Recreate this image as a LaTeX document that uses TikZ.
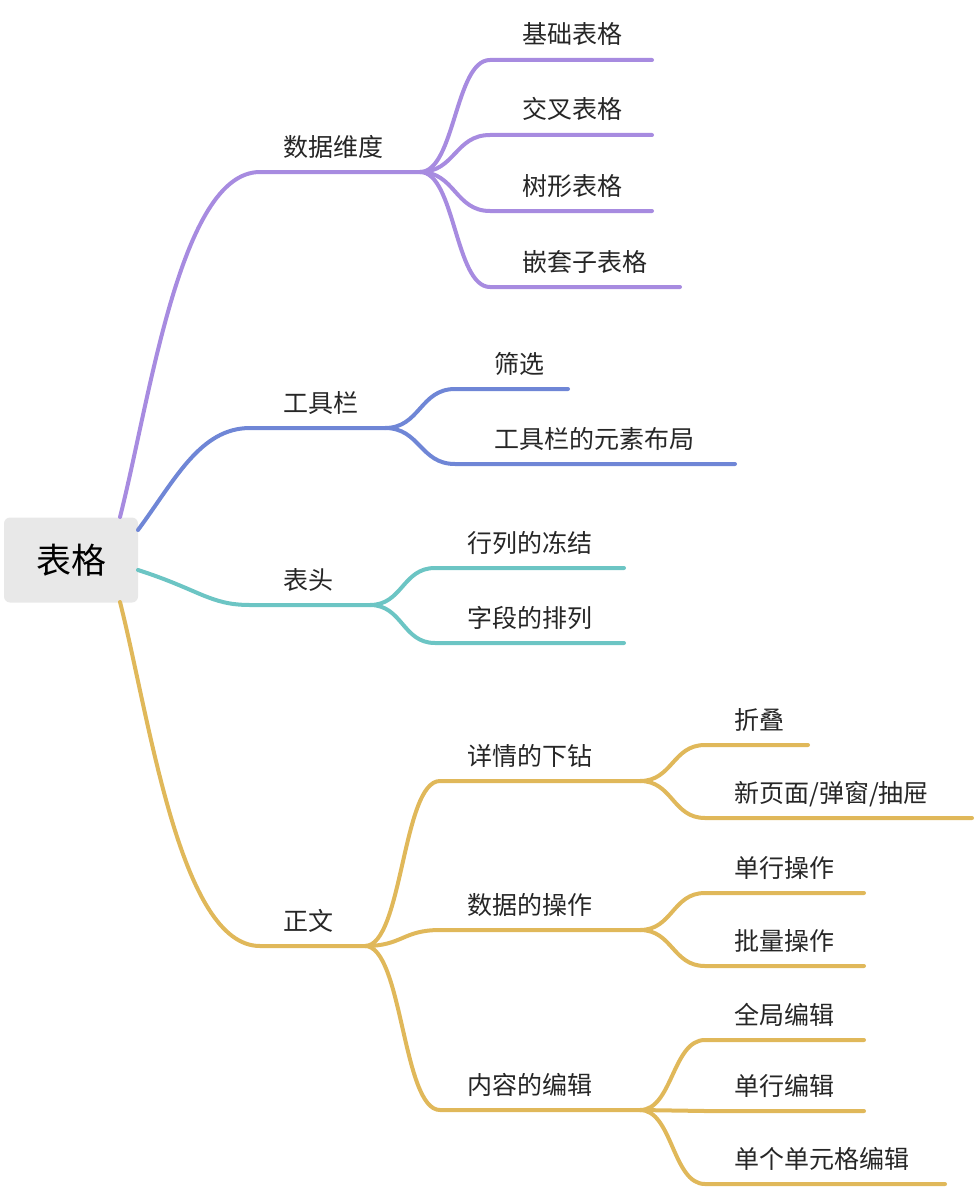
\documentclass[tikz,border=0pt]{standalone}
\usepackage{fontspec}
\setmainfont{Noto Sans CJK SC}
\usetikzlibrary{positioning,calc}
\definecolor{cpurple}{HTML}{A78BE0}
\definecolor{cblue}{HTML}{6F86D6}
\definecolor{cteal}{HTML}{6CC5C4}
\definecolor{cyellow}{HTML}{E0B85A}

\begin{document}
\begin{tikzpicture}[
    x = 1pt, y = -1pt, % pixel grid
    branch/.style = {line width = 4pt, line cap = round},
    lbl/.style = {anchor = base west, inner sep = 0pt, font = \fontsize{25}{30}\selectfont, text = black!85},
    link/.style = {to path = {let \p1 = (\tikztostart), \p2 = (\tikztotarget) in
      .. controls ({0.5*\x1+0.5*\x2},\y1) and ({0.5*\x1+0.5*\x2},\y2) .. (\tikztotarget)}}
    ]
    \useasboundingbox (0,0) rectangle (974,1188);

    % root
    \node[fill = black!9, rounded corners = 6pt, minimum width = 134pt, minimum height = 85pt,
          font = \fontsize{35}{40}\selectfont] (root) at (71,560) {表格};
    \coordinate (rtop) at (120,517);
    \coordinate (rbot) at (120,602);
    \coordinate (rr1) at (138,530);
    \coordinate (rr2) at (138,570);

    % level 1 underlines
    \coordinate (d0) at (260,172); \coordinate (d1) at (420,172);
    \coordinate (t0) at (250,428); \coordinate (t1) at (385,428);
    \coordinate (h0) at (250,605); \coordinate (h1) at (370,605);
    \coordinate (z0) at (260,946); \coordinate (z1) at (365,946);
    \node[lbl] (dl) at (283,156) {数据维度};
    \node[lbl] (tl) at (283,412) {工具栏};
    \node[lbl] (hl) at (283,589) {表头};
    \node[lbl] (zl) at (283,930) {正文};

    \draw[branch, cpurple] (rtop) .. controls (150,400) and (180,172) .. (d0) -- (d1);
    \draw[branch, cblue] (rr1) .. controls (175,480) and (200,428) .. (t0) -- (t1);
    \draw[branch, cteal] (rr2) .. controls (200,590) and (210,605) .. (h0) -- (h1);
    \draw[branch, cyellow] (rbot) .. controls (150,720) and (180,946) .. (z0) -- (z1);

    % data dimension
    \foreach \yy/\ee/\txt/\nm in {60/652/基础表格/d1a, 135/652/交叉表格/d1b, 211/652/树形表格/d1c, 287/680/嵌套子表格/d1d} {
      \coordinate (\nm) at (490,\yy);
      \coordinate (\nm e) at (\ee,\yy);
      \draw[branch, cpurple] (d1) to[link] (\nm) -- (\nm e);
      \node[lbl] at (522,{\yy-16}) {\txt};
    }
    % toolbar
    \foreach \yy/\ee/\txt/\nm in {389/568/筛选/t1a, 464/735/工具栏的元素布局/t1b} {
      \coordinate (\nm) at (455,\yy);
      \coordinate (\nm e) at (\ee,\yy);
      \draw[branch, cblue] (t1) to[link] (\nm) -- (\nm e);
      \node[lbl] at (494,{\yy-16}) {\txt};
    }
    % header
    \foreach \yy/\txt/\nm in {568/行列的冻结/h1a, 643/字段的排列/h1b} {
      \coordinate (\nm) at (435,\yy);
      \coordinate (\nm e) at (624,\yy);
      \draw[branch, cteal] (h1) to[link] (\nm) -- (\nm e);
      \node[lbl] at (467,{\yy-16}) {\txt};
    }
    % body
    \coordinate (za) at (440,781); \coordinate (za1) at (640,781);
    \coordinate (zb) at (440,930); \coordinate (zb1) at (640,930);
    \coordinate (zc) at (440,1110); \coordinate (zc1) at (640,1110);
    \foreach \cc/\dd in {za/za1, zb/zb1, zc/zc1}
      \draw[branch, cyellow] (z1) to[link] (\cc) -- (\dd);
    \node[lbl] (zal) at (467,765) {详情的下钻};
    \node[lbl] (zbl) at (467,914) {数据的操作};
    \node[lbl] (zcl) at (467,1094) {内容的编辑};

    \foreach \pp/\yy/\ee/\txt/\nm in {za1/745/808/折叠/g1, za1/818/972/{新页面/弹窗/抽屉}/g2,
        zb1/893/864/单行操作/g3, zb1/966/864/批量操作/g4,
        zc1/1040/864/全局编辑/g5, zc1/1111/864/单行编辑/g6, zc1/1184/945/单个单元格编辑/g7} {
      \coordinate (\nm) at (705,\yy);
      \coordinate (\nm e) at (\ee,\yy);
      \draw[branch, cyellow] (\pp) to[link] (\nm) -- (\nm e);
      \node[lbl] at (734,{\yy-16}) {\txt};
    }
\end{tikzpicture}
\end{document}
